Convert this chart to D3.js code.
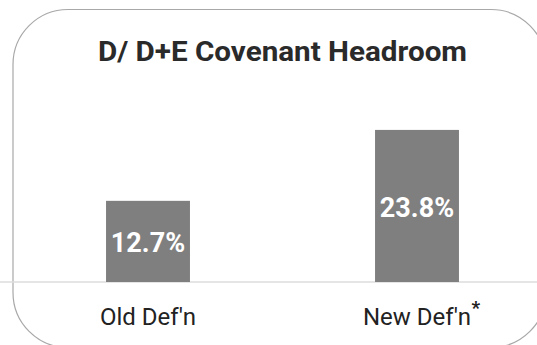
<!DOCTYPE html>
<html>
<head>
<meta charset="utf-8">
<script src="https://cdn.jsdelivr.net/npm/d3@7/dist/d3.min.js"></script>
<style>
  html, body { margin: 0; padding: 0; background: #ffffff; }
  svg { display: block; }
  text { font-family: Roboto, "Open Sans", "DejaVu Sans", sans-serif; }
</style>
</head>
<body>
<svg id="chart" width="537" height="345"></svg>
<script>
const title = "D/ D+E Covenant Headroom";
const categories = ["Old Def'n", "New Def'n"];
const markers = ["", "*"];
const values = [12.7, 23.8];
const valueLabels = ["12.7%", "23.8%"];

const svg = d3.select("#chart");
const W = 537, H = 345;
const baseY = 282;

// rounded frame (right and bottom edges run past the window)
svg.append("rect")
  .attr("x", 13).attr("y", 9.5)
  .attr("width", 533).attr("height", 338)
  .attr("rx", 55).attr("ry", 55)
  .attr("fill", "none")
  .attr("stroke", "#a8a8a8")
  .attr("stroke-width", 1.2);

const x = d3.scaleBand()
  .domain(categories)
  .range([13.5, 551.5])
  .paddingInner(0.688)
  .paddingOuter(0.344);

const y = d3.scaleLinear()
  .domain([0, 25])
  .range([baseY, baseY - 6.39 * 25]);

// baseline
svg.append("line")
  .attr("x1", 0).attr("x2", W)
  .attr("y1", baseY).attr("y2", baseY)
  .attr("stroke", "#dcdcdc")
  .attr("stroke-width", 1.5);

// title
svg.append("text")
  .attr("x", 282.5).attr("y", 61)
  .attr("text-anchor", "middle")
  .attr("font-size", 27.5)
  .attr("font-weight", 700)
  .attr("fill", "#2a2a2a")
  .attr("textLength", 369)
  .attr("lengthAdjust", "spacingAndGlyphs")
  .text(title);

const data = categories.map((c, i) => ({ c, v: values[i], lab: valueLabels[i], m: markers[i] }));

// bars
svg.selectAll("rect.bar")
  .data(data)
  .join("rect")
  .attr("class", "bar")
  .attr("x", d => x(d.c))
  .attr("width", x.bandwidth())
  .attr("y", d => y(d.v))
  .attr("height", d => y(0) - y(d.v))
  .attr("fill", "#7f7f7f");

// value labels
svg.selectAll("text.val")
  .data(data)
  .join("text")
  .attr("class", "val")
  .attr("x", d => x(d.c) + x.bandwidth() / 2)
  .attr("y", d => (y(d.v) + y(0)) / 2 + 11)
  .attr("text-anchor", "middle")
  .attr("font-size", 27)
  .attr("font-weight", 700)
  .attr("fill", "#ffffff")
  .text(d => d.lab);

// category labels
const cats = svg.selectAll("text.cat")
  .data(data)
  .join("text")
  .attr("class", "cat")
  .attr("x", d => x(d.c) + x.bandwidth() / 2)
  .attr("y", 325)
  .attr("text-anchor", "middle")
  .attr("font-size", 24)
  .attr("fill", "#222222")
  .text(d => d.c);

// footnote markers
cats.each(function(d) {
  if (!d.m) return;
  const w = this.getComputedTextLength();
  svg.append("text")
    .attr("x", x(d.c) + x.bandwidth() / 2 + w / 2 + 0.5)
    .attr("y", 314)
    .attr("font-size", 19)
    .attr("font-weight", 700)
    .attr("fill", "#222222")
    .text(d.m);
});
</script>
</body>
</html>
